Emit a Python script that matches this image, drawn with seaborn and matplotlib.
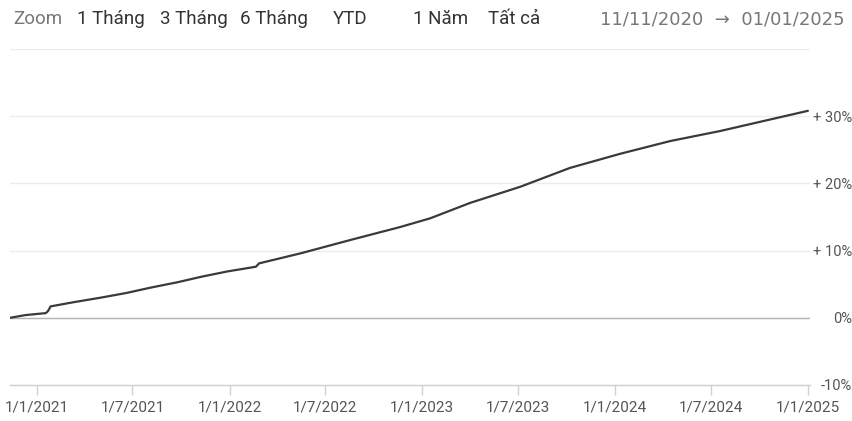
import matplotlib
matplotlib.use("Agg")
import matplotlib.pyplot as plt
import seaborn as sns
import pandas as pd

# ---- data ----
dates = ["2020-11-11", "2020-12-10", "2021-01-18", "2021-01-22", "2021-01-27",
         "2021-03-10", "2021-05-02", "2021-06-20", "2021-08-05", "2021-09-25",
         "2021-11-08", "2021-12-28", "2022-02-20", "2022-02-26", "2022-05-16",
         "2022-08-19", "2022-11-20", "2023-01-16", "2023-04-02", "2023-07-06",
         "2023-10-08", "2024-01-11", "2024-04-15", "2024-07-19", "2024-10-21",
         "2025-01-01"]
returns = [0.0, 0.4, 0.7, 1.0, 1.7,
           2.3, 3.0, 3.7, 4.5, 5.3,
           6.1, 6.9, 7.6, 8.1, 9.6,
           11.6, 13.5, 14.8, 17.1, 19.5,
           22.3, 24.4, 26.3, 27.8, 29.5,
           30.8]
xtick_dates = ["2021-01-01", "2021-07-01", "2022-01-01", "2022-07-01", "2023-01-01",
               "2023-07-01", "2024-01-01", "2024-07-01", "2025-01-01"]
xtick_labels = ["1/1/2021", "1/7/2021", "1/1/2022", "1/7/2022", "1/1/2023",
                "1/7/2023", "1/1/2024", "1/7/2024", "1/1/2025"]
ytick_values = [-10, 0, 10, 20, 30, 40]
ytick_labels = ["-10%", "0%", "+ 10%", "+ 20%", "+ 30%", ""]
buttons = ["Zoom", "1 Tháng", "3 Tháng", "6 Tháng", "YTD", "1 Năm", "Tất cả"]
range_text = "11/11/2020  \u2192  01/01/2025"

df = pd.DataFrame({"date": pd.to_datetime(dates), "ret": returns})

sns.set_theme(style="white")
plt.rcParams["font.family"] = ["Roboto", "DejaVu Sans"]

W, H = 853, 421
fig = plt.figure(figsize=(W / 100, H / 100), dpi=100)
fig.patch.set_facecolor("white")
ax_right = 810
ax = fig.add_axes([10 / W, 1 - 385 / H, (ax_right - 10) / W, (385 - 49) / H])
ax.set_facecolor("white")

sns.lineplot(data=df, x="date", y="ret", ax=ax, color="#3a3a3a", linewidth=1.6)
ax.axhline(0, color="#b5b5b5", linewidth=1.0, zorder=1)

ax.set_xlim(pd.Timestamp("2020-11-11"), pd.Timestamp("2025-01-05"))
ax.set_ylim(-10, 40)

ax.set_yticks(ytick_values)
ax.set_yticklabels(ytick_labels)
ax.yaxis.tick_right()
# right-align labels so they end at the figure's right edge
pad_pt = (852 - ax_right) * 72 / 100
ax.tick_params(axis="y", length=0, pad=pad_pt, labelsize=10.5, labelcolor="#555555")
for lab in ax.get_yticklabels():
    lab.set_horizontalalignment("right")

ax.set_xticks(pd.to_datetime(xtick_dates))
ax.set_xticklabels(xtick_labels)
ax.tick_params(axis="x", length=7, width=1, color="#d0d0d0", pad=4,
               labelsize=11, labelcolor="#555555", bottom=True)

ax.grid(axis="y", color="#ececec", linewidth=1)
ax.grid(axis="x", visible=False)
for s in ["top", "right", "left"]:
    ax.spines[s].set_visible(False)
ax.spines["bottom"].set_color("#d0d0d0")
ax.spines["bottom"].set_linewidth(1)
ax.set_xlabel("")
ax.set_ylabel("")

# header
btn_x = [13, 77, 160, 240, 333, 413, 488]
for i, (t, x) in enumerate(zip(buttons, btn_x)):
    fig.text(x / W, 1 - 19 / H, t, ha="left", va="center", fontsize=13.5,
             color="#777777" if i == 0 else "#333333")
fig.text(600 / W, 1 - 19 / H, range_text, ha="left", va="center", fontsize=13,
         color="#777777", family=["DejaVu Sans"])

fig.savefig("out.png", dpi=100, facecolor="white")
